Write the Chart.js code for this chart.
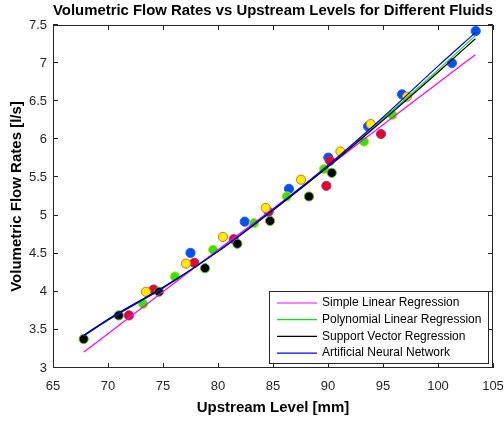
<!DOCTYPE html>
<html><head><meta charset="utf-8">
<script src="https://cdn.jsdelivr.net/npm/chart.js@4"></script>
<style>html,body{margin:0;padding:0;background:#fff}#wrap{width:504px;height:421px;position:relative}canvas{display:block}</style>
</head><body><div id="wrap"><canvas id="c" width="504" height="421" style="width:504px;height:421px"></canvas></div>
<script>
const xTicks=[65,70,75,80,85,90,95,100,105];
const yTicks=[3,3.5,4,4.5,5,5.5,6,6.5,7,7.5];
const blueX=[77.5,82.43,86.45,90.03,93.64,96.73,101.27,103.43];
const blueY=[4.51,4.92,5.35,5.76,6.17,6.59,7.0,7.42];
const redX=[71.9,74.15,77.85,81.43,84.6,89.85,90.18,94.82];
const redY=[3.69,4.03,4.38,4.69,5.05,5.39,5.72,6.07];
const yellowX=[73.45,77.09,80.45,84.34,87.55,91.13,93.88,97.18];
const yellowY=[4.0,4.37,4.72,5.10,5.47,5.84,6.2,6.56];
const greenX=[73.2,76.09,79.55,83.27,86.25,89.64,93.27,95.85];
const greenY=[3.84,4.2,4.55,4.9,5.25,5.61,5.97,6.32];
const blackX=[67.79,70.98,74.64,78.82,81.76,84.73,88.27,90.34];
const blackY=[3.38,3.69,4.0,4.31,4.63,4.93,5.25,5.56];
const fitX=[67.8,70,75,80,85,90,95,100,103.4];
const linearY=[3.21,3.45,4.00,4.55,5.09,5.64,6.19,6.74,7.11];
const polyY=[3.42,3.63,4.05,4.53,5.07,5.65,6.27,6.91,7.36];
const svrY=[3.43,3.64,4.06,4.53,5.07,5.64,6.25,6.88,7.32];
const annY=[3.42,3.63,4.05,4.53,5.08,5.66,6.29,6.96,7.40];
const seriesNames=['Simple Linear Regression','Polynomial Linear Regression','Support Vector Regression','Artificial Neural Network'];

const FONT="'Liberation Sans', Arial, Helvetica, sans-serif";
const pts=(xs,ys)=>xs.map((x,i)=>({x:x,y:ys[i]}));
function lineDs(label,ys,color,order){
  return {type:'line',label:label,data:pts(fitX,ys),borderColor:color,backgroundColor:color,
    borderWidth:1.2,pointRadius:0,fill:false,cubicInterpolationMode:'monotone',order:order,isFit:true};
}
function dotDs(label,xs,ys,fill,edge,order){
  return {type:'scatter',label:label,data:pts(xs,ys),backgroundColor:fill,borderColor:edge,
    borderWidth:1,pointRadius:4.6,pointHoverRadius:4.6,order:order,showLine:false};
}
const frame={id:'frame',afterDraw(chart){
  const ctx=chart.ctx,a=chart.chartArea,xs=chart.scales.x,ys=chart.scales.y;
  ctx.save();
  ctx.strokeStyle='#262626';ctx.lineWidth=1;
  ctx.strokeRect(a.left+0.5,a.top+0.5,a.right-a.left-1,a.bottom-a.top-1);
  ctx.beginPath();
  xTicks.forEach(v=>{const p=Math.round(xs.getPixelForValue(v))+0.5;
    ctx.moveTo(p,a.bottom);ctx.lineTo(p,a.bottom-5);ctx.moveTo(p,a.top);ctx.lineTo(p,a.top+5);});
  yTicks.forEach(v=>{const p=Math.round(ys.getPixelForValue(v))-0.5;
    ctx.moveTo(a.left,p);ctx.lineTo(a.left+5,p);ctx.moveTo(a.right,p);ctx.lineTo(a.right-5,p);});
  ctx.stroke();
  const fits=chart.data.datasets.filter(d=>d.isFit);
  const bw=219,bh=72,bx=a.right-5-bw,by=a.bottom-5-bh;
  ctx.fillStyle='#fff';ctx.fillRect(bx,by,bw,bh);
  ctx.strokeStyle='#262626';ctx.strokeRect(bx+0.5,by+0.5,bw,bh);
  ctx.font='12px '+FONT;ctx.textBaseline='middle';ctx.textAlign='left';
  fits.forEach((d,i)=>{const y=by+12+i*16.7;
    ctx.strokeStyle=d.borderColor;ctx.lineWidth=1.2;ctx.beginPath();ctx.moveTo(bx+8,y);ctx.lineTo(bx+48,y);ctx.stroke();
    ctx.fillStyle='#000';ctx.fillText(d.label,bx+53,y);});
  ctx.restore();
}};
new Chart(document.getElementById('c'),{
  data:{datasets:[
    lineDs(seriesNames[0],linearY,'#ff00ff',4),
    lineDs(seriesNames[1],polyY,'#11e011',3),
    lineDs(seriesNames[2],svrY,'#000000',2),
    lineDs(seriesNames[3],annY,'#0000ff',1),
    dotDs('Fluid 1',blueX,blueY,'#0050ff','#1466e6',14),
    dotDs('Fluid 2',redX,redY,'#f00020','#8a3aa8',13),
    dotDs('Fluid 3',yellowX,yellowY,'#ffee00','#e86a10',12),
    dotDs('Fluid 4',greenX,greenY,'#22ee00','#e8d200',11),
    dotDs('Fluid 5',blackX,blackY,'#000000','#5cc21a',10)
  ]},
  options:{responsive:false,animation:false,devicePixelRatio:1,
    layout:{padding:{left:0,right:0,top:0,bottom:0}},
    plugins:{legend:{display:false},tooltip:{enabled:false},
      title:{display:true,fullSize:false,text:'Volumetric Flow Rates vs Upstream Levels for Different Fluids',
        color:'#000',font:{family:FONT,size:15.4,weight:'bold',lineHeight:1.2},padding:{top:1.5,bottom:5}}},
    scales:{
      x:{type:'linear',min:65,max:105,
        afterBuildTicks:s=>{s.ticks=xTicks.map(v=>({value:v}));},
        afterFit:s=>{s.height=53;s.paddingRight=11;s.paddingLeft=0;},
        grid:{display:false,drawTicks:false},border:{display:false},
        ticks:{color:'#262626',font:{family:FONT,size:13},padding:11,maxRotation:0,autoSkip:false},
        title:{display:true,text:'Upstream Level [mm]',color:'#000',font:{family:FONT,size:15,weight:'bold',lineHeight:1.2},padding:{top:0,bottom:4.5}}},
      y:{type:'linear',min:3,max:7.5,
        afterBuildTicks:s=>{s.ticks=yTicks.map(v=>({value:v}));},
        afterFit:s=>{s.width=53;s.paddingTop=0;s.paddingBottom=0;},
        grid:{display:false,drawTicks:false},border:{display:false},
        ticks:{color:'#262626',font:{family:FONT,size:13},padding:6,autoSkip:false,callback:v=>String(v)},
        title:{display:true,text:'Volumetric Flow Rates [l/s]',color:'#000',font:{family:FONT,size:15,weight:'bold',lineHeight:1.2},padding:{top:8,bottom:0}}}
    }
  },
  plugins:[frame]
});
</script></body></html>
